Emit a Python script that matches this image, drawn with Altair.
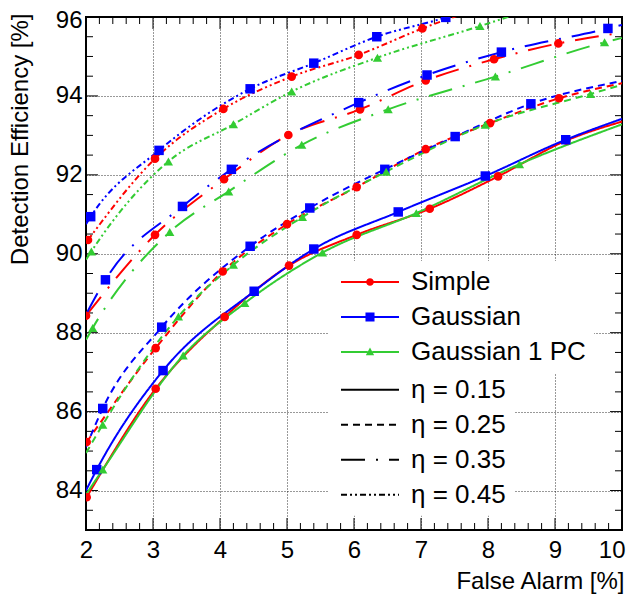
import altair as alt
import pandas as pd

MODELS = ["Simple", "Gaussian", "Gaussian 1 PC"]
COLORS = ["#ff0000", "#0000ff", "#33cc33"]
ETAS = ["η = 0.15", "η = 0.25", "η = 0.35", "η = 0.45"]
DASHES = [[1, 0], [7, 5], [24, 11, 2, 11], [6, 3, 2, 3, 2, 3]]

X_TICKS = [2, 3, 4, 5, 6, 7, 8, 9, 10]
Y_TICKS = [84, 86, 88, 90, 92, 94, 96]
X_MINOR = [round(2 + 0.2 * i, 1) for i in range(41) if i % 5 != 0]
Y_MINOR = [83.5, 84.5, 85, 85.5, 86.5, 87, 87.5, 88.5, 89, 89.5, 90.5, 91, 91.5,
           92.5, 93, 93.5, 94.5, 95, 95.5]

# ---- Simple (red) ----
simple_015_x = [2.01, 3.04, 4.07, 5.03, 6.04, 7.13, 8.15, 9.17]
simple_015_y = [83.83, 86.58, 88.40, 89.70, 90.48, 91.14, 91.96, 92.87]
simple_025_x = [2.01, 3.04, 4.04, 5.00, 6.04, 7.07, 8.03, 9.06]
simple_025_y = [85.23, 87.61, 89.55, 90.75, 91.69, 92.65, 93.31, 93.94]
simple_035_x = [2.00, 3.03, 4.06, 5.02, 6.09, 7.07, 8.09, 9.05]
simple_035_y = [88.43, 90.48, 91.89, 93.01, 93.66, 94.39, 94.93, 95.33]
simple_045_x = [2.03, 3.03, 4.05, 5.07, 6.07, 7.02]
simple_045_y = [90.35, 92.41, 93.67, 94.49, 95.04, 95.71]

# ---- Gaussian (blue) ----
gauss_015_x = [2.16, 3.15, 4.51, 5.40, 6.66, 7.96, 9.16]
gauss_015_y = [84.53, 87.04, 89.05, 90.12, 91.06, 91.97, 92.89]
gauss_025_x = [2.25, 3.13, 4.45, 5.34, 6.46, 7.51, 8.64]
gauss_025_y = [86.08, 88.14, 90.19, 91.16, 92.14, 92.97, 93.80]
gauss_035_x = [2.29, 3.44, 4.17, 6.07, 7.09, 8.20, 9.79]
gauss_035_y = [89.34, 91.20, 92.14, 93.83, 94.53, 95.11, 95.71]
gauss_045_x = [2.07, 3.09, 4.45, 5.40, 6.34, 7.37]
gauss_045_y = [90.94, 92.62, 94.18, 94.83, 95.50, 95.99]

# ---- Gaussian 1 PC (green) ----
pc1_015_x = [2.25, 3.45, 4.37, 5.53, 6.93, 8.47]
pc1_015_y = [84.53, 87.42, 88.75, 90.03, 91.03, 92.27]
pc1_025_x = [2.25, 3.38, 4.20, 5.23, 6.48, 7.96, 9.53]
pc1_025_y = [85.67, 88.41, 89.72, 90.93, 92.08, 93.27, 94.05]
pc1_035_x = [2.10, 3.25, 4.13, 5.22, 6.51, 8.11, 9.74]
pc1_035_y = [88.12, 90.55, 91.58, 92.76, 93.66, 94.49, 95.36]
pc1_045_x = [2.08, 3.23, 4.20, 5.07, 6.35, 7.88]
pc1_045_y = [90.06, 92.34, 93.28, 94.11, 94.97, 95.77]

# line start (at x = 2) and end points of each curve
LINE_START = {
    ("Simple", 0): None, ("Simple", 1): None, ("Simple", 2): None, ("Simple", 3): None,
    ("Gaussian", 0): (2.0, 84.0), ("Gaussian", 1): (2.0, 85.1),
    ("Gaussian", 2): (2.0, 88.46), ("Gaussian", 3): (2.0, 90.75),
    ("Gaussian 1 PC", 0): (2.0, 83.9), ("Gaussian 1 PC", 1): (2.0, 84.95),
    ("Gaussian 1 PC", 2): (2.0, 87.82), ("Gaussian 1 PC", 3): (2.0, 89.85),
}
LINE_END = {
    ("Simple", 0): (10.0, 93.35), ("Simple", 1): (10.0, 94.32),
    ("Simple", 2): (10.0, 95.6), ("Simple", 3): (8.2, 96.4),
    ("Gaussian", 0): (10.0, 93.42), ("Gaussian", 1): (10.0, 94.38),
    ("Gaussian", 2): (10.0, 95.8), ("Gaussian", 3): (8.0, 96.35),
    ("Gaussian 1 PC", 0): (10.0, 93.28), ("Gaussian 1 PC", 1): (10.0, 94.28),
    ("Gaussian 1 PC", 2): (10.0, 95.47), ("Gaussian 1 PC", 3): (9.0, 96.4),
}

SERIES = [
    ("Simple", 0, simple_015_x, simple_015_y), ("Simple", 1, simple_025_x, simple_025_y),
    ("Simple", 2, simple_035_x, simple_035_y), ("Simple", 3, simple_045_x, simple_045_y),
    ("Gaussian", 0, gauss_015_x, gauss_015_y), ("Gaussian", 1, gauss_025_x, gauss_025_y),
    ("Gaussian", 2, gauss_035_x, gauss_035_y), ("Gaussian", 3, gauss_045_x, gauss_045_y),
    ("Gaussian 1 PC", 0, pc1_015_x, pc1_015_y), ("Gaussian 1 PC", 1, pc1_025_x, pc1_025_y),
    ("Gaussian 1 PC", 2, pc1_035_x, pc1_035_y), ("Gaussian 1 PC", 3, pc1_045_x, pc1_045_y),
]

line_rows, pt_rows = [], []
for model, ei, xs, ys in SERIES:
    eta = ETAS[ei]
    pts = list(zip(xs, ys))
    start = LINE_START[(model, ei)]
    lp = ([start] if start else []) + pts + [LINE_END[(model, ei)]]
    for x, y in lp:
        line_rows.append(dict(model=model, eta=eta, series=f"{model}|{eta}", x=x, y=y))
    for x, y in pts:
        pt_rows.append(dict(model=model, eta=eta, x=x, y=y))
lines_df = pd.DataFrame(line_rows)
pts_df = pd.DataFrame(pt_rows)

xt_major = pd.DataFrame({"x": X_TICKS})
xt_minor = pd.DataFrame({"x": X_MINOR})
yt_major = pd.DataFrame({"y": Y_TICKS})
yt_minor = pd.DataFrame({"y": Y_MINOR})

W, H = 536, 513
FONT = "Liberation Sans"

xscale = alt.Scale(domain=[2, 10], nice=False, zero=False)
yscale = alt.Scale(domain=[83, 96], nice=False, zero=False)

x_axis = alt.Axis(values=X_TICKS, format="d", title="False Alarm [%]",
                  titleX=538, titleY=58, titleAlign="right", titleAnchor="end",
                  titleBaseline="alphabetic", labelPadding=8, labelFlush=False,
                  labelOverlap=False,
                  labelAlign={"condition": {"test": "datum.value == 10", "value": "right"},
                              "value": "center"},
                  labelOffset={"condition": {"test": "datum.value == 10", "value": 3},
                               "value": 0})
y_axis = alt.Axis(values=Y_TICKS, format="d", title="Detection Efficiency [%]",
                  titleX=-54, titleY=-4, titleAlign="right", titleAnchor="end",
                  titleAngle=270, titleBaseline="bottom", labelPadding=4,
                  labelOverlap=False,
                  labelOffset={"condition": {"test": "datum.value == 96", "value": 3},
                               "value": 0})

X = alt.X("x:Q", scale=xscale, axis=x_axis)
Y = alt.Y("y:Q", scale=yscale, axis=y_axis)

color_scale = alt.Scale(domain=MODELS, range=COLORS)
dash_scale = alt.Scale(domain=ETAS, range=DASHES)

# legend symbols: line segment with the marker in the middle
SEG = "M-2.5,-0.09H-0.2V0.09H-2.5Z M0.2,-0.09H2.5V0.09H0.2Z "
LEGEND_PATHS = [
    SEG + "M0.33,0A0.33,0.33,0,1,1,-0.33,0A0.33,0.33,0,1,1,0.33,0Z",
    SEG + "M-0.39,-0.39H0.39V0.39H-0.39Z",
    SEG + "M0,-0.38L0.36,0.28H-0.36Z",
]
shape_scale = alt.Scale(domain=MODELS, range=LEGEND_PATHS)

NB = "\u00a0"
LFS = 26
model_legend = alt.Legend(
    title=None, orient="none", legendX=242, legendY=244, padding=8,
    fillColor="white", symbolSize=538, symbolStrokeWidth=0, symbolOffset=21,
    labelOffset=28, rowPadding=9, labelFont=FONT, labelFontSize=LFS,
    labelColor="black", labelLimit=500, symbolOpacity=1,
    labelExpr="datum.label + '" + NB * 3 + "'",
)
dash_legend = alt.Legend(
    title=None, orient="none", legendX=242, legendY=351.7, padding=8,
    fillColor="white", symbolType="M-2.5,0H2.5", symbolSize=538,
    symbolStrokeWidth=2, symbolStrokeColor="black", symbolOffset=21,
    labelOffset=28, rowPadding=9, labelFont=FONT, labelFontSize=LFS,
    labelColor="black", labelLimit=500,
    labelExpr="datum.label + '" + NB * 14 + "'",
)

lines = alt.Chart(lines_df).mark_line(clip=True, strokeWidth=2, interpolate="monotone").encode(
    x=X, y=Y,
    color=alt.Color("model:N", scale=color_scale, legend=None),
    strokeDash=alt.StrokeDash("eta:N", scale=dash_scale, legend=dash_legend),
    detail="series:N",
)

SHAPES = [("Simple", "circle", 75), ("Gaussian", "square", 90), ("Gaussian 1 PC", "triangle-up", 85)]
point_layers = []
for m, shp, sz in SHAPES:
    point_layers.append(
        alt.Chart(pts_df).transform_filter(alt.datum.model == m)
        .mark_point(filled=True, shape=shp, size=sz, opacity=1, clip=True)
        .encode(x=X, y=Y, color=alt.Color("model:N", scale=color_scale, legend=None))
    )

legend_layer = alt.Chart(pts_df).transform_filter("false").mark_point(
    filled=True, opacity=1, size=538, strokeWidth=0
).encode(
    x=X, y=Y,
    color=alt.Color("model:N", scale=color_scale, legend=model_legend),
    shape=alt.Shape("model:N", scale=shape_scale, legend=model_legend),
)

MAJ, MIN = 12, 7
def xticks(df, ln):
    b = alt.Chart(df).mark_rule(color="black", strokeWidth=1)
    bottom = b.encode(x=X, y=alt.value(H), y2=alt.value(H - ln))
    top = b.encode(x=X, y=alt.value(0), y2=alt.value(ln))
    return [bottom, top]

def yticks(df, ln):
    b = alt.Chart(df).mark_rule(color="black", strokeWidth=1)
    left = b.encode(y=Y, x=alt.value(0), x2=alt.value(ln))
    right = b.encode(y=Y, x=alt.value(W), x2=alt.value(W - ln))
    return [left, right]

tick_layers = xticks(xt_major, MAJ) + xticks(xt_minor, MIN) + yticks(yt_major, MAJ) + yticks(yt_minor, MIN)

chart = alt.layer(
    *tick_layers, lines, *point_layers, legend_layer
).resolve_legend(
    color="independent", shape="independent"
).properties(
    width=W, height=H,
    autosize=alt.AutoSizeParams(type="none"),
    padding={"left": 78, "top": 9, "right": 4, "bottom": 65},
).configure_view(
    stroke="black", strokeWidth=2
).configure_axis(
    grid=True, gridColor="black", gridDash=[1, 2], gridWidth=1, gridOpacity=0.8,
    domain=False, ticks=False, tickSize=0,
    labelFont=FONT, labelFontSize=24, labelColor="black",
    titleFont=FONT, titleFontSize=24, titleColor="black", titleFontWeight="normal",
)

chart.save("out.html", embed_options={"renderer": "svg", "actions": False})
